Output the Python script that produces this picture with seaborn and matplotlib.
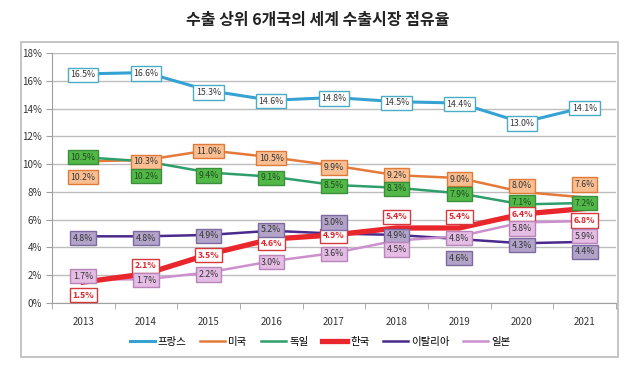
import matplotlib
matplotlib.use("Agg")
import matplotlib.pyplot as plt
from matplotlib.patches import Rectangle
from matplotlib.ticker import FixedLocator
import pandas as pd
import seaborn as sns

# ── Data ─────────────────────────────────────────────────────────────────────
years = ["2013", "2014", "2015", "2016", "2017", "2018", "2019", "2020", "2021"]
countries = ["프랑스", "미국", "독일", "한국", "이탈리아", "일본"]

france = [16.5, 16.6, 15.3, 14.6, 14.8, 14.5, 14.4, 13.0, 14.1]
usa = [10.2, 10.3, 11.0, 10.5, 9.9, 9.2, 9.0, 8.0, 7.6]
germany = [10.5, 10.2, 9.4, 9.1, 8.5, 8.3, 7.9, 7.1, 7.2]
korea = [1.5, 2.1, 3.5, 4.6, 4.9, 5.4, 5.4, 6.4, 6.8]
italy = [4.8, 4.8, 4.9, 5.2, 5.0, 4.9, 4.6, 4.3, 4.4]
japan = [1.7, 1.7, 2.2, 3.0, 3.6, 4.5, 4.8, 5.8, 5.9]

series = {"프랑스": france, "미국": usa, "독일": germany,
          "한국": korea, "이탈리아": italy, "일본": japan}

# ── Styles ───────────────────────────────────────────────────────────────────
line_color = {"프랑스": "#36A2D2", "미국": "#E4793A", "독일": "#2F9E6C",
              "한국": "#E8262C", "이탈리아": "#4A2A8C", "일본": "#CC90CC"}
line_width = {"프랑스": 2.2, "미국": 1.8, "독일": 1.8,
              "한국": 3.8, "이탈리아": 1.8, "일본": 1.8}
box_face = {"프랑스": "white", "미국": "#F9BF92", "독일": "#52B848",
            "한국": "white", "이탈리아": "#B2A3C9", "일본": "#E4BCE4"}
box_edge = {"프랑스": "#4BACC6", "미국": "#E07A3A", "독일": "#3A8F3A",
            "한국": "#D8383C", "이탈리아": "#7C6AA0", "일본": "#B985B9"}
text_color = {"프랑스": "#333333", "미국": "#333333", "독일": "#1F4A1F",
              "한국": "#E0222A", "이탈리아": "#333333", "일본": "#333333"}
# label shift from the point, in pixels (up = positive)
label_dy = {"프랑스": [-1, -1, -2, -1, -1, -1, -1, -1, -1],
            "미국": [-16, -2, -1, -1, -2, 0, -1, 6, 13],
            "독일": [0, -15, -3, -1, -1, -1, -1, 2, 0],
            "한국": [-13, 8, -1, -4, -1, 11, 11, 0, -12],
            "이탈리아": [-2, -2, -1, 1, 11, -1, -19, -2, -10],
            "일본": [3, -1, -2, -1, -1, -9, -2, -6, -15]}

plt.rcParams["font.family"] = ["Noto Sans CJK KR", "DejaVu Sans"]

rows = []
for c in countries:
    for i, v in enumerate(series[c]):
        rows.append({"country": c, "x": i, "share": v})
df = pd.DataFrame(rows)

fig = plt.figure(figsize=(6.4, 3.74), dpi=100)
ax = fig.add_axes([0.081, 0.190, 0.8815, 0.668])

for c in countries:
    sub = df[df["country"] == c]
    sns.lineplot(data=sub, x="x", y="share", ax=ax, color=line_color[c],
                 linewidth=line_width[c], label=c,
                 zorder=4 if c == "한국" else 3)

for c in countries:
    for i, v in enumerate(series[c]):
        ax.annotate(f"{v:.1f}%", (i, v), xytext=(0, label_dy[c][i]),
                    textcoords="offset pixels", ha="center", va="center",
                    fontsize=6.3, color=text_color[c],
                    fontweight="bold" if c == "한국" else "normal",
                    bbox=dict(boxstyle="square,pad=0.3", fc=box_face[c],
                              ec=box_edge[c], lw=1.0), zorder=6)

ax.set_xlim(-0.5, 8.5)
ax.set_ylim(0, 18)
ax.set_xticks(range(len(years)))
ax.set_xticklabels(years)
ax.xaxis.set_minor_locator(FixedLocator([i - 0.5 for i in range(len(years) + 1)]))
ax.tick_params(axis="x", which="major", length=0, pad=10, labelsize=7, labelcolor="#333333")
ax.tick_params(axis="x", which="minor", length=4, color="#A0A0A0")
ax.set_yticks(range(0, 19, 2))
ax.set_yticklabels([f"{t}%" for t in range(0, 19, 2)])
ax.tick_params(axis="y", length=4, color="#A0A0A0", labelsize=7, labelcolor="#333333", pad=3)
ax.set_xlabel("")
ax.set_ylabel("")
ax.grid(axis="y", color="#BDBDBD", linewidth=1.0)
ax.set_axisbelow(True)
for s in ["top", "right"]:
    ax.spines[s].set_visible(False)
ax.spines["left"].set_color("#A0A0A0")
ax.spines["bottom"].set_color("#A0A0A0")

handles, labels = ax.get_legend_handles_labels()
ax.get_legend().remove()
fig.legend(handles, labels, loc="center", bbox_to_anchor=(0.5, 0.086), ncol=6,
           frameon=False, fontsize=7.5, handlelength=2.4, columnspacing=1.3,
           handletextpad=0.3)

fig.patches.append(Rectangle((0.033, 0.045), 0.933, 0.842, transform=fig.transFigure,
                             fill=False, edgecolor="#BBBBBB", linewidth=1.2))
fig.text(0.497, 0.947, "수출 상위 6개국의 세계 수출시장 점유율", ha="center", va="center",
         fontsize=11.5, fontweight="bold", color="#222222")

plt.savefig("out.png", dpi=100)
